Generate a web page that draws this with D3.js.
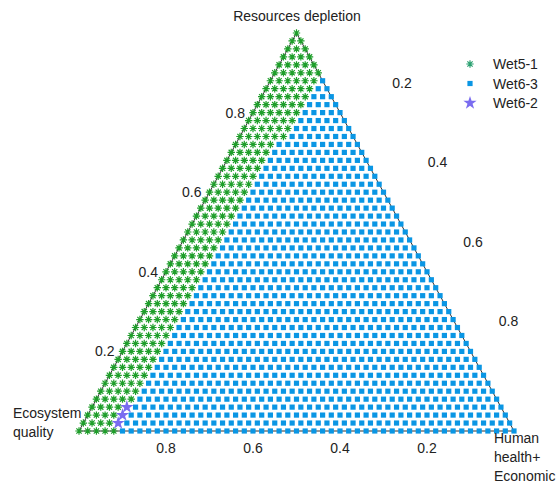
<!DOCTYPE html>
<html>
<head>
<meta charset="utf-8">
<script src="https://cdn.jsdelivr.net/npm/d3@7"></script>
<style>
  body { margin: 0; background: #fff; }
  svg text { font-family: "Liberation Sans", Arial, sans-serif; fill: #222; }
</style>
</head>
<body>
<div id="chart"></div>
<script>
// grid of weights, step 0.02 (50 divisions per side)
var divisions = 50;

// number of Wet5-1 points at the left of each row (row 0 = bottom, Resources depletion = 0)
var wet51Count = [5, 4, 4, 4, 5, 5, 5, 5, 5, 5,
                  5, 5, 5, 5, 5, 5, 5, 5, 5, 5,
                  5, 5, 5, 5, 5, 5, 5, 5, 5, 5,
                  5, 5, 5, 5, 5, 5, 5, 6, 6, 6,
                  6, 6, 6, 6, 6, 6, 5, 4, 3, 2,
                  1];
// Wet6-2 points as [row, index in row]
var wet62Points = [[1, 4], [2, 4], [3, 4]];

var seriesNames = ["Wet5-1", "Wet6-3", "Wet6-2"];
var seriesColors = ["#1e9e2a", "#0a96e4", "#7a6cf0"];

var leftTicks = [0.2, 0.4, 0.6, 0.8];    // Resources depletion
var bottomTicks = [0.8, 0.6, 0.4, 0.2];  // Ecosystem quality
var rightTicks = [0.2, 0.4, 0.6, 0.8];   // Human health+Economic

function init() {
  var w = 560;
  var h = 483;

  var x = d3.scaleLinear().domain([0, 1]).range([79, 514]);
  var y = d3.scaleLinear().domain([0, 1]).range([431, 33]);

  // ternary -> screen, (eco, res, hum) sum to 1
  function px(res, hum) { return x(hum + res / 2); }
  function py(res) { return y(res); }

  var svg = d3.select("#chart")
      .append("svg")
      .attr("width", w)
      .attr("height", h);

  // build the points from the per-row counts
  var points = [];
  for (var r = 0; r <= divisions; r++) {
    for (var k = 0; k <= divisions - r; k++) {
      var s = k < wet51Count[r] ? 0 : 1;
      points.push({ res: r / divisions, hum: k / divisions, row: r, k: k, s: s });
    }
  }
  wet62Points.forEach(function(p) {
    points.forEach(function(d) { if (d.row == p[0] && d.k == p[1]) d.s = 2; });
  });

  // triangle outline
  var tri = [[0, 0], [1, 0], [0, 1]];
  svg.append("path")
    .attr("d", d3.line()(tri.map(function(t) { return [px(t[1], t[0]), py(t[1])]; })) + "Z")
    .attr("fill", "none")
    .attr("stroke", "#333")
    .attr("stroke-width", 1);

  var star5 = d3.symbol().type(d3.symbolStar).size(55);
  var square = d3.symbol().type(d3.symbolSquare).size(27);

  function asterisk(r) {
    var d = "";
    for (var a = 0; a < 4; a++) {
      var ang = a * Math.PI / 4;
      var c = Math.cos(ang) * r, sn = Math.sin(ang) * r;
      d += "M" + (-c) + "," + (-sn) + "L" + c + "," + sn;
    }
    return d;
  }

  var marks = svg.append("g");
  marks.selectAll("path.pt")
    .data(points)
    .enter()
    .append("path")
    .attr("class", "pt")
    .attr("transform", function(d) { return "translate(" + px(d.res, d.hum) + "," + py(d.res) + ")"; })
    .attr("d", function(d) {
      if (d.s == 0) return asterisk(3.7);
      if (d.s == 1) return square();
      return star5();
    })
    .attr("fill", function(d) { return d.s == 0 ? "none" : seriesColors[d.s]; })
    .attr("stroke", function(d) { return d.s == 0 ? seriesColors[0] : "none"; })
    .attr("stroke-width", 1.2);

  // tick labels
  svg.selectAll("text.lt")
    .data(leftTicks)
    .enter()
    .append("text")
    .attr("x", function(d) { return px(d, 0) - 8; })
    .attr("y", function(d) { return py(d) + 5; })
    .attr("text-anchor", "end")
    .style("font-size", "14px")
    .text(function(d) { return d; });

  svg.selectAll("text.bt")
    .data(bottomTicks)
    .enter()
    .append("text")
    .attr("x", function(d) { return px(0, 1 - d); })
    .attr("y", 453)
    .attr("text-anchor", "middle")
    .style("font-size", "14px")
    .text(function(d) { return d; });

  svg.selectAll("text.rt")
    .data(rightTicks)
    .enter()
    .append("text")
    .attr("x", function(d) { return px(1 - d, d) + 70 - d * 40; })
    .attr("y", function(d) { return py(1 - d) - 25; })
    .attr("text-anchor", "middle")
    .style("font-size", "14px")
    .text(function(d) { return d; });

  // vertex labels
  svg.append("text").attr("x", 297).attr("y", 21).attr("text-anchor", "middle")
    .style("font-size", "14px").text("Resources depletion");
  svg.append("text").attr("x", 13).attr("y", 418).style("font-size", "14px").text("Ecosystem");
  svg.append("text").attr("x", 13).attr("y", 437).style("font-size", "14px").text("quality");
  ["Human", "health+", "Economic"].forEach(function(t, i) {
    svg.append("text").attr("x", 494).attr("y", 443 + i * 19).style("font-size", "14px").text(t);
  });

  // legend
  var legend = svg.append("g").attr("transform", "translate(470,64)");
  seriesNames.forEach(function(name, i) {
    var g = legend.append("g").attr("transform", "translate(0," + i * 19.5 + ")");
    g.append("path")
      .attr("d", i == 0 ? asterisk(3.7) : (i == 1 ? square() : star5()))
      .attr("fill", i == 0 ? "none" : seriesColors[i])
      .attr("stroke", i == 0 ? "#2aa070" : "none")
      .attr("stroke-width", 1.2);
    g.append("text").attr("x", 23).attr("y", 5).style("font-size", "14px").text(name);
  });
}

window.onload = init;
</script>
</body>
</html>
